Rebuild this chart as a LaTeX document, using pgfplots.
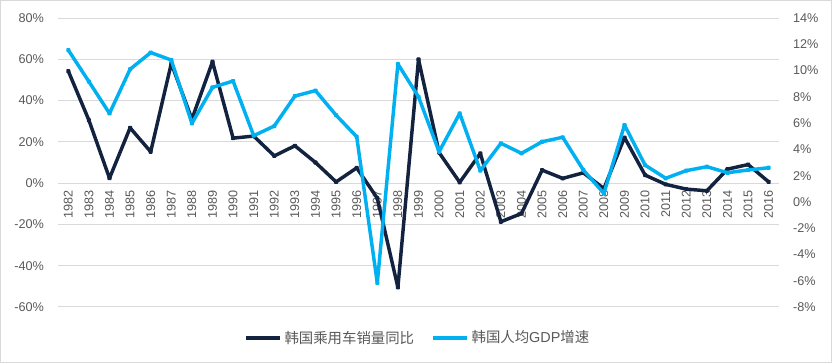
\documentclass[border=0pt]{standalone}
\usepackage{pgfplots}
\pgfplotsset{compat=1.18}
\usepackage{pgfplotstable}
\usepackage{fontspec}
\setmainfont{Liberation Sans}
\newfontfamily\cjk{Noto Sans CJK SC}
\definecolor{navy}{HTML}{13233F}
\definecolor{cyanline}{HTML}{00B0F0}
\definecolor{gridc}{HTML}{D9D9D9}
\definecolor{labc}{HTML}{595959}

\pgfplotstableread{
year sales gdp
1982 54.3 11.56
1983 30.5 9.16
1984 2.4 6.74
1985 26.8 10.10
1986 15.2 11.37
1987 58.0 10.80
1988 31.0 5.98
1989 58.8 8.72
1990 21.8 9.20
1991 22.8 5.04
1992 13.2 5.78
1993 18.1 8.06
1994 10.0 8.47
1995 0.6 6.60
1996 7.4 4.96
1997 -7.3 -6.17
1998 -50.5 10.50
1999 60.0 8.00
2000 14.8 3.82
2001 0.4 6.74
2002 14.4 2.38
2003 -18.7 4.46
2004 -14.7 3.70
2005 6.3 4.58
2006 2.3 4.92
2007 5.0 2.43
2008 -2.6 0.65
2009 22.1 5.85
2010 3.9 2.80
2011 -0.6 1.80
2012 -2.9 2.38
2013 -3.7 2.68
2014 6.8 2.22
2015 9.0 2.43
2016 0.6 2.60
}\data

\begin{document}
\begin{tikzpicture}
\useasboundingbox (-43.5pt,-42.75pt) rectangle (580.5pt,230.25pt);
\draw[gridc, line width=0.75pt] (-42.75pt,-41.25pt) rectangle (579.75pt,229.5pt);
\begin{axis}[
  scale only axis, width=540.75pt, height=216.75pt,
  xmin=1981.5, xmax=2016.5, ymin=-60, ymax=80,
  ytick={-60,-40,...,80},
  xtick={1982,...,2016},
  axis x line*=middle, axis y line*=left,
  x axis line style={draw=none}, y axis line style={draw=none},
  major tick length=0,
  ymajorgrids, grid style={gridc, line width=0.75pt},
  tick label style={font=\fontsize{9.5}{11}\selectfont, text=labc},
  /pgf/number format/assume math mode=true,
  /pgf/number format/1000 sep={},
  xticklabel style={rotate=90, anchor=east},
  xticklabel shift=2pt,
  yticklabel={\pgfmathprintnumber{\tick}\%},
  yticklabel style={xshift=-7pt},
]
\addplot[navy, line width=2.6pt, line join=round, mark=*, mark size=0.6pt,
  mark options={fill=white, draw=none}] table[x=year, y=sales] {\data};
\end{axis}
\begin{axis}[
  scale only axis, width=540.75pt, height=216.75pt,
  xmin=1981.5, xmax=2016.5, ymin=-8, ymax=14,
  ytick={-8,-6,...,14},
  axis y line*=right, axis x line=none,
  y axis line style={draw=none},
  major tick length=0,
  tick label style={font=\fontsize{9.5}{11}\selectfont, text=labc},
  /pgf/number format/assume math mode=true,
  yticklabel={\pgfmathprintnumber{\tick}\%},
  yticklabel style={xshift=7pt},
  legend style={at={(0.4995,-0.107)}, anchor=center, draw=none, fill=none,
    legend columns=2, font=\fontsize{10.8}{12}\selectfont, text=labc,
    /tikz/every even column/.append style={column sep=11pt}},
  legend image code/.code={\draw[#1, line width=2.6pt] (0pt,0pt) -- (25.5pt,0pt);},
]
\addlegendimage{navy}
\addlegendentry{{\cjk 韩国乘用车销量同比}}
\addplot[cyanline, line width=2.6pt, line join=round, mark=*, mark size=0.6pt,
  mark options={fill=white, draw=none}] table[x=year, y=gdp] {\data};
\addlegendentry{{\cjk 韩国人均}GDP{\cjk 增速}}
\end{axis}
\end{tikzpicture}
\end{document}
